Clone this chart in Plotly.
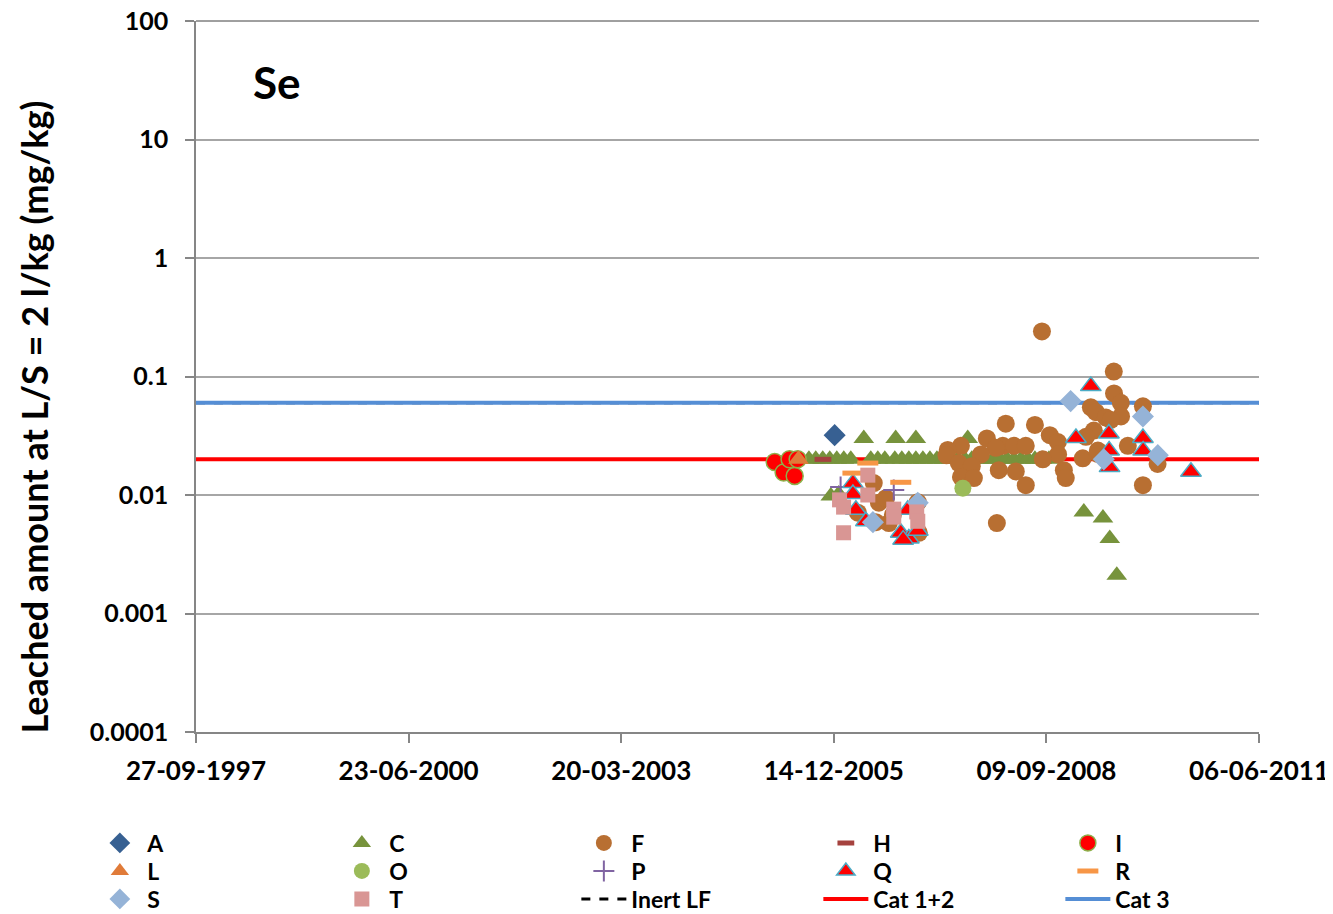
import plotly.graph_objects as go

# x-axis tick dates (every 1000 days)
tick_dates = ["1997-09-27", "2000-06-23", "2003-03-20", "2005-12-14", "2008-09-09", "2011-06-06"]
tick_labels = ["27-09-1997", "23-06-2000", "20-03-2003", "14-12-2005", "09-09-2008", "06-06-2011"]
y_ticks = [0.0001, 0.001, 0.01, 0.1, 1, 10, 100]
y_tick_labels = ["0.0001", "0.001", "0.01", "0.1", "1", "10", "100"]

# limit lines
limit_dates = ["1997-09-27", "2011-06-06"]
inert_lf = [0.06, 0.06]
cat_12 = [0.02, 0.02]
cat_3 = [0.06, 0.06]

# measured values per source
A_dates = ["2005-12-18"]
A_vals = [0.032]

C_dates = ["2005-08-19", "2005-09-20", "2005-10-23", "2005-11-25", "2005-12-28", "2006-01-30",
           "2006-03-04", "2006-06-06", "2006-07-09", "2006-08-11", "2006-09-27", "2006-10-30",
           "2006-12-02", "2007-01-04", "2007-02-06", "2007-03-11", "2007-04-13", "2007-05-16",
           "2007-06-18", "2007-07-20", "2007-08-22", "2007-09-24", "2007-10-27", "2007-11-29",
           "2008-01-01", "2008-02-03", "2008-03-07", "2008-04-09", "2008-05-12", "2008-06-14",
           "2008-07-17", "2008-08-19", "2008-09-21",
           "2006-05-04", "2006-10-01", "2007-01-04", "2007-09-05",
           "2005-11-30", "2006-01-06", "2009-03-04", "2009-06-02", "2009-07-04", "2009-08-06"]
C_vals = [0.02, 0.02, 0.02, 0.02, 0.02, 0.02,
          0.02, 0.02, 0.02, 0.02, 0.02, 0.02,
          0.02, 0.02, 0.02, 0.02, 0.02, 0.02,
          0.02, 0.02, 0.02, 0.02, 0.02, 0.02,
          0.02, 0.02, 0.02, 0.02, 0.02, 0.02,
          0.02, 0.02, 0.02,
          0.03, 0.03, 0.03, 0.03,
          0.0098, 0.0102, 0.0072, 0.0064, 0.0043, 0.0021]

F_dates = ["2008-08-19", "2009-07-23", "2009-07-24", "2009-08-25", "2009-12-07", "2009-04-06",
           "2009-04-30", "2009-08-26", "2009-06-16", "2008-03-02", "2008-07-17", "2008-09-25",
           "2008-11-02", "2009-04-20", "2009-03-14", "2007-12-04", "2007-08-04", "2007-06-03",
           "2008-02-17", "2008-04-09", "2008-06-04", "2008-01-15", "2007-11-06", "2007-05-28",
           "2008-11-03", "2008-08-23", "2009-02-27", "2009-05-09", "2009-09-27", "2007-07-25",
           "2007-09-24", "2008-11-30", "2008-12-09", "2008-01-29", "2008-04-18", "2007-08-04",
           "2007-10-04", "2008-06-04", "2010-02-14", "2009-12-07", "2008-01-20", "2009-07-09",
           "2009-05-09",
           "2006-06-20", "2006-07-14", "2006-08-16", "2006-09-18", "2006-08-30", "2006-06-30",
           "2006-04-06", "2007-01-13", "2007-01-18"]
F_vals = [0.24, 0.11, 0.072, 0.060, 0.056, 0.055,
          0.050, 0.046, 0.045, 0.040, 0.039, 0.032,
          0.028, 0.035, 0.031, 0.030, 0.026, 0.024,
          0.026, 0.026, 0.026, 0.025, 0.022, 0.0216,
          0.022, 0.020, 0.0204, 0.0222, 0.026, 0.0186,
          0.0175, 0.0162, 0.0139, 0.0162, 0.0158, 0.0142,
          0.0139, 0.0121, 0.0183, 0.0121, 0.0058, 0.043,
          0.0237,
          0.0126, 0.0086, 0.0094, 0.0068, 0.0058, 0.0059,
          0.0071, 0.0087, 0.0048]

H_dates = ["2005-10-24"]
H_vals = [0.02]

I_dates = ["2005-03-11", "2005-04-22", "2005-05-20", "2005-06-13", "2005-06-27"]
I_vals = [0.019, 0.0155, 0.020, 0.0145, 0.020]

L_dates = ["2005-07-01"]
L_vals = [0.02]

O_dates = ["2007-08-13"]
O_vals = [0.0114]

P_dates = ["2006-01-15", "2006-09-22"]
P_vals = [0.0117, 0.011]

Q_dates = ["2006-03-14", "2006-03-14", "2006-03-28", "2006-05-14", "2006-10-25", "2006-12-02",
           "2007-01-13", "2006-11-27", "2006-11-05",
           "2009-04-06", "2009-01-26", "2009-06-30", "2009-07-01", "2009-07-03", "2009-12-07",
           "2009-12-08", "2010-07-21"]
Q_vals = [0.0126, 0.0102, 0.0075, 0.0060, 0.0048, 0.0043,
          0.0050, 0.0075, 0.0042,
          0.083, 0.0303, 0.033, 0.0237, 0.0172, 0.0303,
          0.0237, 0.0157]

R_dates = ["2006-03-14", "2006-05-23", "2006-10-25"]
R_vals = [0.0153, 0.0186, 0.0128]

S_dates = ["2006-06-16", "2007-01-13", "2009-01-01", "2009-06-06", "2009-12-07", "2010-02-15"]
S_vals = [0.0059, 0.0086, 0.062, 0.020, 0.046, 0.0217]

T_dates = ["2006-01-10", "2006-01-29", "2006-01-29", "2006-05-23", "2006-05-23", "2006-09-22",
           "2006-09-22", "2007-01-08", "2007-01-13"]
T_vals = [0.0091, 0.0079, 0.0048, 0.0147, 0.010, 0.0076,
          0.0065, 0.0072, 0.0060]

FONT = "Lato, 'Open Sans', sans-serif"

fig = go.Figure()

# limit lines first so markers sit on top; they go in the third legend row
fig.add_trace(go.Scatter(x=limit_dates, y=inert_lf, mode="lines", name="Inert LF",
                         line=dict(color="black", width=3, dash="dash"),
                         legend="legend3", legendrank=13))
fig.add_trace(go.Scatter(x=limit_dates, y=cat_12, mode="lines", name="Cat 1+2",
                         line=dict(color="#FF0000", width=4),
                         legend="legend3", legendrank=14))
fig.add_trace(go.Scatter(x=limit_dates, y=cat_3, mode="lines", name="Cat 3",
                         line=dict(color="#558ED5", width=4),
                         legend="legend3", legendrank=15))

# (name, dates, values, marker, legend row)
series = [
    ("A", A_dates, A_vals, dict(symbol="diamond", size=17, color="#376092"), "legend"),
    ("C", C_dates, C_vals, dict(symbol="triangle-up", size=18, color="#77933C"), "legend"),
    ("F", F_dates, F_vals, dict(symbol="circle", size=18, color="#B86F32"), "legend"),
    ("H", H_dates, H_vals, dict(symbol="line-ew", size=12, color="#A5423E",
                                line=dict(color="#A5423E", width=5)), "legend"),
    ("I", I_dates, I_vals, dict(symbol="circle", size=17, color="#FF0000",
                                line=dict(color="#8DB04A", width=1.5)), "legend"),
    ("L", L_dates, L_vals, dict(symbol="triangle-up", size=18, color="#E07B39"), "legend2"),
    ("O", O_dates, O_vals, dict(symbol="circle", size=17, color="#9BBB59"), "legend2"),
    ("P", P_dates, P_vals, dict(symbol="cross-thin", size=15, color="#8064A2",
                                line=dict(color="#8064A2", width=2)), "legend2"),
    ("Q", Q_dates, Q_vals, dict(symbol="triangle-up", size=18, color="#FF0000",
                                line=dict(color="#4BACC6", width=1.5)), "legend2"),
    ("R", R_dates, R_vals, dict(symbol="line-ew", size=15, color="#F79646",
                                line=dict(color="#F79646", width=5)), "legend2"),
    ("S", S_dates, S_vals, dict(symbol="diamond", size=17, color="#95B3D7"), "legend3"),
    ("T", T_dates, T_vals, dict(symbol="square", size=15, color="#D99694"), "legend3"),
]
for rank, (name, xs, ys, marker, leg) in enumerate(series, start=1):
    fig.add_trace(go.Scatter(x=xs, y=ys, mode="markers", name=name, marker=marker,
                             legend=leg, legendrank=rank))

fig.add_annotation(x=0.052, y=0.914, xref="paper", yref="paper", text="Se",
                   showarrow=False, xanchor="left", yanchor="middle",
                   font=dict(size=44, color="black", family=FONT, weight="bold"))

# y-axis title placed by hand
fig.add_annotation(x=-0.152, y=0.443, xref="paper", yref="paper",
                   text="Leached amount at L/S = 2 l/kg (mg/kg)", textangle=-90,
                   showarrow=False, xanchor="center", yanchor="middle",
                   font=dict(size=36, color="black", family=FONT, weight="bold"))

# thin dark line along the top of the plot area
fig.add_shape(type="line", xref="paper", yref="paper", x0=0, x1=1, y0=1, y1=1,
              line=dict(color="#404040", width=1))


def legend_row(y):
    return dict(orientation="h", x=-0.0975, xanchor="left", y=y, yanchor="middle",
                entrywidth=182, entrywidthmode="pixels", itemwidth=45,
                font=dict(size=23, family=FONT, weight="bold"), traceorder="normal",
                bgcolor="rgba(0,0,0,0)")


# page body adds an 8px offset, so the figure is drawn 8px smaller than the window
fig.update_layout(
    width=1325, height=906,
    margin=dict(l=188, r=74, t=13, b=182, autoexpand=False),
    plot_bgcolor="white", paper_bgcolor="white",
    font=dict(family=FONT, size=22, color="black", weight="bold"),
    showlegend=True,
    legend=legend_row(-0.1561),
    legend2=legend_row(-0.1955),
    legend3=legend_row(-0.2349),
    xaxis=dict(type="date", range=[tick_dates[0], tick_dates[-1]],
               tickvals=tick_dates, ticktext=tick_labels, automargin=False,
               showgrid=False, showline=True, linecolor="#868686", linewidth=1.5,
               ticks="outside", ticklen=9, tickcolor="#868686", tickwidth=1.5,
               ticklabelstandoff=6, ticklabeloverflow="allow",
               tickfont=dict(size=26, family=FONT, weight="bold"), zeroline=False),
    yaxis=dict(type="log", range=[-4, 2], tickvals=y_ticks, ticktext=y_tick_labels,
               automargin=False, ticklabeloverflow="allow", ticklabelstandoff=12,
               showgrid=True, gridcolor="#A6A6A6", gridwidth=1.5,
               showline=True, linecolor="#868686", linewidth=1.5,
               ticks="outside", ticklen=9, tickcolor="#868686", tickwidth=1.5,
               tickfont=dict(size=25, family=FONT, weight="bold")),
)

fig.write_html("out.html")
